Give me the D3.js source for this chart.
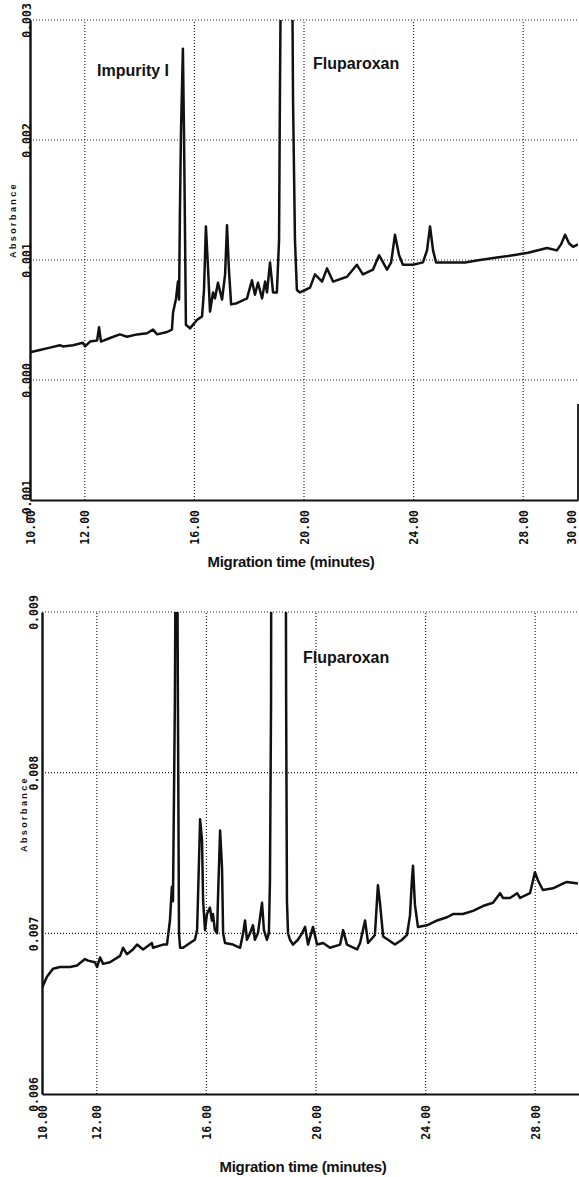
<!DOCTYPE html>
<html>
<head>
<meta charset="utf-8">
<script src="https://cdnjs.cloudflare.com/ajax/libs/d3/7.8.5/d3.min.js"></script>
<style>
html, body { margin: 0; padding: 0; background: #fff; }
svg { display: block; }
.tick-label { font-family: "DejaVu Sans Mono", monospace; font-size: 11.5px; font-weight: bold; fill: #111; }
.ylab { font-family: "Liberation Sans", Arial, sans-serif; font-size: 9px; font-weight: bold; letter-spacing: 2.4px; fill: #111; }
.xtitle { font-family: "Liberation Sans", Arial, sans-serif; font-size: 15px; font-weight: bold; letter-spacing: -0.3px; fill: #111; }
.note { font-family: "Liberation Sans", Arial, sans-serif; font-size: 16px; font-weight: bold; fill: #111; }
</style>
</head>
<body>
<div id="mainDiv"></div>
<script>
'use strict';

// upper electropherogram
var topTime = [10.00, 10.36, 10.73, 11.09, 11.20, 11.57, 11.93, 12.01, 12.19, 12.45, 12.52, 12.59, 12.92, 13.28, 13.54,
    13.91, 14.27, 14.49, 14.64, 15.00, 15.18,
    15.22, 15.33, 15.40, 15.44, 15.47, 15.51, 15.58, 15.62, 15.66, 15.69, 15.84, 16.09, 16.28, 16.35, 16.42, 16.50, 16.57,
    16.68, 16.75, 16.86, 17.01, 17.12, 17.19, 17.26, 17.34, 17.55, 17.92, 18.10, 18.21, 18.32, 18.47, 18.58, 18.65, 18.76,
    18.87, 19.01, 19.09, 19.12, 19.20, 19.34, 19.53, 19.60, 19.67, 19.74, 19.85, 20.04, 20.22, 20.40, 20.66, 20.84, 21.06,
    21.57, 21.93, 22.15, 22.52, 22.74, 23.03, 23.18, 23.32, 23.47, 23.61, 23.98, 24.34, 24.49, 24.60, 24.71, 24.82, 25.22,
    25.88, 26.42, 27.04, 27.63, 28.18, 28.87, 29.23, 29.38, 29.53, 29.67, 29.82, 30.00];
var topAbs = [0.00023, 0.00025, 0.00027, 0.00029, 0.00028, 0.00029, 0.00031, 0.00028, 0.00032, 0.00033, 0.00044, 0.00032,
    0.00035, 0.00038, 0.00036, 0.00038, 0.00039, 0.00042, 0.00038, 0.00040, 0.00042,
    0.00056, 0.00068, 0.00082, 0.00067, 0.00136, 0.00206, 0.00276, 0.00206, 0.00117,
    0.00046, 0.00043, 0.00050, 0.00053, 0.00075, 0.00128, 0.00092, 0.00057, 0.00073, 0.00068, 0.00081, 0.00067, 0.00088,
    0.00129, 0.00092, 0.00063, 0.00064, 0.00068, 0.00083, 0.00071, 0.00081, 0.00068, 0.00082, 0.00073, 0.00098, 0.00073,
    0.00073, 0.00117, 0.00233, 0.00480, 0.00650, 0.00480, 0.00233, 0.00117, 0.00075, 0.00073, 0.00075, 0.00077, 0.00088,
    0.00082, 0.00093, 0.00082, 0.00086, 0.00096, 0.00088, 0.00092, 0.00104, 0.00092, 0.00098, 0.00121, 0.00104, 0.00096,
    0.00096, 0.00098, 0.00108, 0.00128, 0.00108, 0.00098, 0.00098, 0.00098, 0.00100, 0.00102, 0.00104, 0.00106, 0.00110,
    0.00108, 0.00113, 0.00121, 0.00114, 0.00111, 0.00113];

// lower electropherogram
var bottomTime = [10.00, 10.18, 10.40, 10.66, 11.02, 11.28, 11.57, 11.68, 11.93, 12.01, 12.12, 12.23, 12.48, 12.85, 12.96,
    13.10, 13.32, 13.47, 13.69, 14.01, 14.05, 14.42, 14.56, 14.67, 14.74, 14.78, 14.85, 14.91, 14.96, 15.00, 15.04, 15.15,
    15.40, 15.58, 15.66, 15.69, 15.77, 15.84, 15.88, 15.95, 16.02, 16.13, 16.20, 16.24, 16.31, 16.39, 16.42, 16.50, 16.57,
    16.61, 16.68, 16.97, 17.23, 17.34, 17.41, 17.48, 17.59, 17.70, 17.77, 17.88, 18.03, 18.10, 18.21, 18.28, 18.32, 18.36,
    18.37, 18.50, 18.80, 18.89, 18.91, 18.94, 18.98, 19.05, 19.16, 19.34, 19.49, 19.60, 19.71, 19.89, 20.04, 20.26, 20.51,
    20.88, 20.99, 21.13, 21.50, 21.61, 21.79, 21.90, 22.15, 22.26, 22.34, 22.45, 22.63, 22.88, 23.14, 23.32, 23.43, 23.50,
    23.54, 23.61, 23.72, 24.05, 24.42, 24.78, 25.00, 25.36, 25.73, 26.09, 26.46, 26.72, 26.82, 27.08, 27.34, 27.45, 27.81,
    27.99, 28.10, 28.28, 28.65, 29.01, 29.16, 29.56];
var bottomAbs = [0.00666, 0.00673, 0.00678, 0.00679, 0.00679, 0.00680, 0.00684, 0.00683, 0.00682, 0.00679, 0.00685, 0.00681,
    0.00682, 0.00686, 0.00691, 0.00687, 0.00690, 0.00693, 0.00690, 0.00694, 0.00691, 0.00693, 0.00693, 0.00708, 0.00729,
    0.00720, 0.00845, 0.01050, 0.00845, 0.00700, 0.00691, 0.00691, 0.00694, 0.00696, 0.00702, 0.00720, 0.00771, 0.00758,
    0.00720, 0.00702, 0.00712, 0.00716, 0.00708, 0.00712, 0.00702, 0.00700, 0.00720, 0.00764, 0.00741, 0.00700, 0.00694,
    0.00693, 0.00691, 0.00700, 0.00708, 0.00696, 0.00700, 0.00705, 0.00696, 0.00700, 0.00719, 0.00702, 0.00696, 0.00700,
    0.00733, 0.00845, 0.01000, 0.01250, 0.01250, 0.01000, 0.00845, 0.00720, 0.00700, 0.00696, 0.00693, 0.00696, 0.00700,
    0.00704, 0.00693, 0.00704, 0.00693, 0.00694, 0.00691, 0.00693, 0.00702, 0.00693, 0.00690, 0.00694, 0.00708, 0.00694,
    0.00699, 0.00730, 0.00718, 0.00698, 0.00696, 0.00693, 0.00696, 0.00699, 0.00711, 0.00733, 0.00742, 0.00718, 0.00704,
    0.00705, 0.00708, 0.00710, 0.00712, 0.00712, 0.00714, 0.00717, 0.00719, 0.00725, 0.00722, 0.00722, 0.00725, 0.00722,
    0.00725, 0.00738, 0.00733, 0.00727, 0.00728, 0.00731, 0.00732, 0.00731];

var xTicksTop = [10, 12, 16, 20, 24, 28, 30];
var xTicksBottom = [10, 12, 16, 20, 24, 28];
var xGrid = [12, 16, 20, 24, 28];
var yTicksTop = [-0.001, 0.000, 0.001, 0.002, 0.003];
var yTicksBottom = [0.006, 0.007, 0.008, 0.009];

var app = {};

app.fmtY = function(d)
{
    return d3.format('.3f')(d).replace('\u2212', '-');
}

app.drawPanel = function(svg, p)
{
    var x = d3.scaleLinear().domain([10, 30]).range([p.left, p.right]);
    var y = d3.scaleLinear().domain(p.yDomain).range([p.bottom, p.top]);
    var g = svg.append('g');

    svg.append('clipPath').attr('id', 'clip' + p.id)
        .append('rect')
        .attr('x', p.left)
        .attr('y', p.top)
        .attr('width', p.right - p.left)
        .attr('height', p.bottom - p.top);

    // dotted grid
    g.selectAll('line.vgrid')
        .data(xGrid)
        .enter()
        .append('line')
        .attr('x1', function(d){ return x(d); })
        .attr('x2', function(d){ return x(d); })
        .attr('y1', p.bottom)
        .attr('y2', p.top)
        .attr('stroke', '#222')
        .attr('stroke-width', 1.2)
        .attr('stroke-dasharray', '1,2');

    g.selectAll('line.hgrid')
        .data(p.yTicks.slice(1))
        .enter()
        .append('line')
        .attr('x1', p.left)
        .attr('x2', 579)
        .attr('y1', function(d){ return y(d); })
        .attr('y2', function(d){ return y(d); })
        .attr('stroke', '#222')
        .attr('stroke-width', 1.2)
        .attr('stroke-dasharray', '1,2');

    // trace
    var pts = p.times.map(function(t, i){ return [t, p.abs[i]]; });
    var line = d3.line()
        .x(function(d){ return x(d[0]); })
        .y(function(d){ return y(d[1]); });

    g.append('path')
        .datum(pts)
        .attr('clip-path', 'url(#clip' + p.id + ')')
        .attr('d', line)
        .attr('fill', 'none')
        .attr('stroke', '#111')
        .attr('stroke-width', 2.5)
        .attr('stroke-linejoin', 'round');

    // x axis
    var xAxis = d3.axisBottom(x)
        .tickValues(p.xTicks)
        .tickFormat(d3.format('.2f'))
        .tickSize(0)
        .tickSizeOuter(0);

    var ax = g.append('g')
        .attr('transform', 'translate(0,' + p.bottom + ')')
        .call(xAxis);

    ax.select('.domain').attr('stroke', '#111').attr('stroke-width', 1.8);
    ax.selectAll('text')
        .attr('class', 'tick-label')
        .attr('transform', function(d){ return (d === 30 ? 'translate(-7,0) ' : '') + 'rotate(-90)'; })
        .attr('text-anchor', 'end')
        .attr('x', -p.xLabelGap)
        .attr('y', 0)
        .attr('dy', '0.35em');

    // y axis
    var yAxis = d3.axisLeft(y)
        .tickValues(p.yTicks)
        .tickFormat(app.fmtY)
        .tickSize(0)
        .tickSizeOuter(0);

    var ay = g.append('g')
        .attr('transform', 'translate(' + p.left + ',0)')
        .call(yAxis);

    ay.select('.domain').attr('stroke', '#111').attr('stroke-width', 2.4);
    ay.selectAll('text')
        .attr('class', 'tick-label')
        .attr('transform', 'translate(' + (p.yLabelX - p.left) + ',0) rotate(-90)')
        .attr('text-anchor', 'middle')
        .attr('x', 0)
        .attr('y', 0)
        .attr('dy', '0.35em');

    g.append('text')
        .attr('class', 'ylab')
        .attr('transform', 'translate(' + p.absX + ',' + p.absY + ') rotate(-90)')
        .attr('text-anchor', 'middle')
        .attr('dy', '0.35em')
        .text('Absorbance');

    g.append('text')
        .attr('class', 'xtitle')
        .attr('x', p.titleX)
        .attr('y', p.titleY)
        .attr('text-anchor', 'middle')
        .text('Migration time (minutes)');

    p.notes.forEach(function(n)
    {
        g.append('text')
            .attr('class', 'note')
            .attr('x', n.x)
            .attr('y', n.y)
            .text(n.text);
    });

    return {x: x, y: y};
}

app.run = function()
{
    var svg = d3.select('#mainDiv').append('svg')
        .attr('width', 579)
        .attr('height', 1177);

    var top = app.drawPanel(svg, {
        id: 'a', left: 30, right: 578, top: 20, bottom: 500,
        yDomain: [-0.001, 0.003], yTicks: yTicksTop, xTicks: xTicksTop,
        times: topTime, abs: topAbs,
        xLabelGap: 10, yLabelX: 27, absX: 13, absY: 220,
        titleX: 291, titleY: 567,
        notes: [{text: 'Impurity I', x: 97, y: 76}, {text: 'Fluparoxan', x: 313, y: 69}]
    });

    // partial right border of the upper frame
    svg.append('line')
        .attr('x1', 578).attr('x2', 578)
        .attr('y1', top.y(-0.001)).attr('y2', top.y(-0.0002))
        .attr('stroke', '#111').attr('stroke-width', 1.8);

    app.drawPanel(svg, {
        id: 'b', left: 42, right: 590, top: 612, bottom: 1094,
        yDomain: [0.006, 0.009], yTicks: yTicksBottom, xTicks: xTicksBottom,
        times: bottomTime, abs: bottomAbs,
        xLabelGap: 11, yLabelX: 34, absX: 24, absY: 814,
        titleX: 303, titleY: 1172,
        notes: [{text: 'Fluparoxan', x: 303, y: 663}]
    });
}

app.run();
</script>
</body>
</html>
